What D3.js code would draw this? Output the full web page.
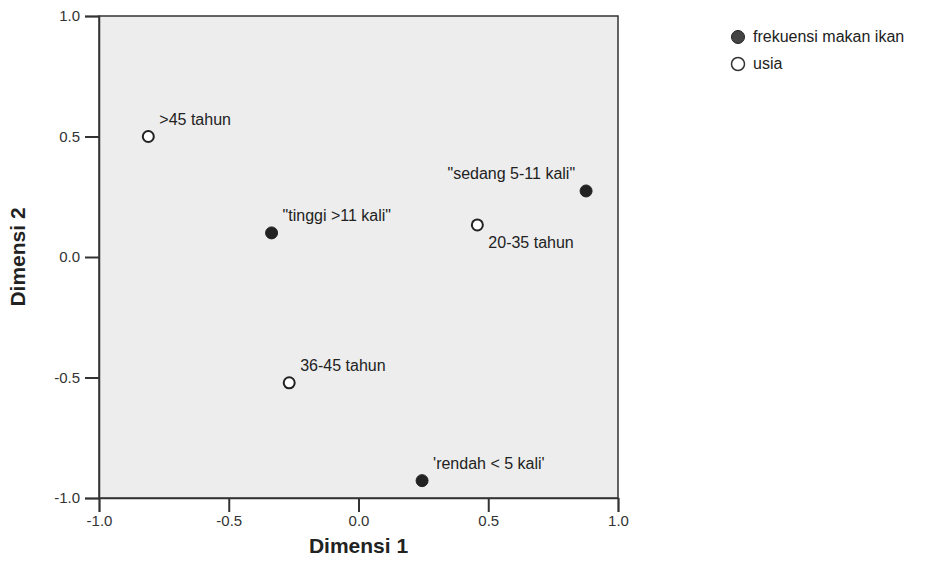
<!DOCTYPE html>
<html>
<head>
<meta charset="utf-8">
<script src="https://cdn.jsdelivr.net/npm/d3@7"></script>
<style>
  body { margin: 0; background: #fff; }
  text { font-family: "Liberation Sans", Arial, sans-serif; fill: #222; }
</style>
</head>
<body>
<div id="chart"></div>
<script>
// category labels and their coordinates on the two dimensions
var labels = [">45 tahun", "\"tinggi >11 kali\"", "\"sedang 5-11 kali\"", "20-35 tahun", "36-45 tahun", "'rendah < 5 kali'"];
var dim1 = [-0.81, -0.335, 0.877, 0.458, -0.267, 0.245];
var dim2 = [0.50, 0.10, 0.274, 0.133, -0.522, -0.928];
var groups = ["usia", "frek", "frek", "usia", "usia", "frek"];

// legend entries
var legendKeys = ["frek", "usia"];
var legendNames = ["frekuensi makan ikan", "usia"];

var tickValues = [-1.0, -0.5, 0.0, 0.5, 1.0];

var width = 934, height = 573;
var margin = { top: 16, right: 316, bottom: 75, left: 99 };
var plotW = width - margin.left - margin.right;
var plotH = height - margin.top - margin.bottom;

var svg = d3.select("#chart").append("svg")
    .attr("width", width)
    .attr("height", height);

var x = d3.scaleLinear().domain([-1, 1]).range([0, plotW]);
var y = d3.scaleLinear().domain([-1, 1]).range([plotH, 0]);

// plain hyphen for negatives, like the original
var fmt = d => d3.format(".1f")(d).replace("\u2212", "-");

var g = svg.append("g")
    .attr("transform", "translate(" + margin.left + "," + margin.top + ")");

// grey plot background with frame
g.append("rect")
    .attr("width", plotW)
    .attr("height", plotH)
    .style("fill", "#ededed")
    .style("stroke", "#333")
    .style("stroke-width", 1.5);

// axes
var xAxis = g.append("g")
    .attr("transform", "translate(0," + plotH + ")")
    .call(d3.axisBottom(x).tickValues(tickValues).tickFormat(fmt).tickSize(14).tickPadding(3));
var yAxis = g.append("g")
    .call(d3.axisLeft(y).tickValues(tickValues).tickFormat(fmt).tickSize(14).tickPadding(5));

[xAxis, yAxis].forEach(function (ax) {
    ax.select(".domain").style("stroke", "#333").style("stroke-width", 1.5);
    ax.selectAll(".tick line").style("stroke", "#333").style("stroke-width", 2);
    ax.selectAll(".tick text")
        .style("font-size", "15px")
        .style("font-family", "'Liberation Sans', Arial, sans-serif")
        .style("fill", "#333");
});

var points = labels.map(function (d, i) {
    return { label: d, x: dim1[i], y: dim2[i], group: groups[i] };
});

function drawMarker(sel) {
    sel.each(function (d) {
        var s = d3.select(this);
        if (d.group === "frek") {
            s.append("circle").attr("r", 6).style("fill", "#222").style("stroke", "#222");
        } else {
            s.append("circle").attr("r", 5.5).style("fill", "#fff").style("stroke", "#222").style("stroke-width", 2);
        }
    });
}

var pt = g.selectAll(".pt")
    .data(points)
    .enter()
    .append("g")
    .attr("class", "pt")
    .attr("transform", d => "translate(" + x(d.x) + "," + y(d.y) + ")");

pt.call(drawMarker);

// label offsets follow the original placement
pt.append("text")
    .attr("x", d => d.label.indexOf("sedang") >= 0 ? -11 : 11)
    .attr("y", d => d.label === "20-35 tahun" ? 23 : -12)
    .attr("text-anchor", d => d.label.indexOf("sedang") >= 0 ? "end" : "start")
    .style("font-size", "16px")
    .text(d => d.label);

// axis titles
svg.append("text")
    .attr("x", margin.left + plotW / 2)
    .attr("y", 553)
    .attr("text-anchor", "middle")
    .style("font-size", "21px")
    .style("font-weight", "bold")
    .text("Dimensi 1");

svg.append("text")
    .attr("transform", "translate(25," + (margin.top + plotH / 2) + ") rotate(-90)")
    .attr("text-anchor", "middle")
    .style("font-size", "21px")
    .style("font-weight", "bold")
    .text("Dimensi 2");

// legend
var legend = svg.selectAll(".legend")
    .data(legendKeys)
    .enter()
    .append("g")
    .attr("class", "legend")
    .attr("transform", (d, i) => "translate(738," + (37 + i * 27) + ")");

legend.each(function (d) {
    var s = d3.select(this);
    if (d === "frek") {
        s.append("circle").attr("r", 6.5).style("fill", "#444").style("stroke", "#222");
    } else {
        s.append("circle").attr("r", 6.5).style("fill", "#fff").style("stroke", "#333").style("stroke-width", 1.5);
    }
});

legend.append("text")
    .attr("x", 15)
    .attr("y", 5)
    .style("font-size", "16px")
    .text((d, i) => legendNames[i]);
</script>
</body>
</html>
